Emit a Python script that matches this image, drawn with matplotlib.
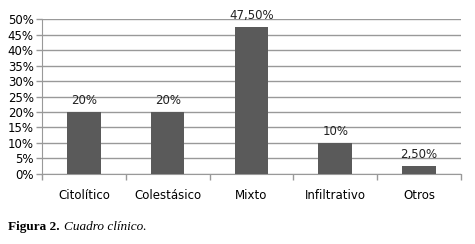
import matplotlib
matplotlib.use("Agg")
import matplotlib.pyplot as plt
from matplotlib.ticker import MultipleLocator, FuncFormatter

categories = ["Citolítico", "Colestásico", "Mixto", "Infiltrativo", "Otros"]
values = [20, 20, 47.5, 10, 2.5]
value_labels = ["20%", "20%", "47,50%", "10%", "2,50%"]

fig = plt.figure(figsize=(4.75, 2.44), dpi=100)
ax = fig.add_axes([0.0884, 0.287, 0.882, 0.635])

x = list(range(len(categories)))
ax.bar(x, values, width=0.4, color="#5a5a5a", zorder=3)
for xi, v, lab in zip(x, values, value_labels):
    ax.text(xi, v + 1.6, lab, ha="center", va="bottom", fontsize=8.5,
            family="DejaVu Sans", color="#222222")

ax.set_xlim(-0.5, len(categories) - 0.5)
ax.set_ylim(0, 50)
ax.yaxis.set_major_locator(MultipleLocator(5))
ax.yaxis.set_major_formatter(FuncFormatter(lambda v, p: f"{int(v)}%"))
ax.grid(axis="y", color="#999999", linewidth=1.0, zorder=0)
ax.set_xticks(x)
ax.set_xticklabels(categories)
ax.set_xticks([i + 0.5 for i in range(-1, len(categories))], minor=True)
ax.tick_params(axis="x", which="major", length=0, pad=11, labelsize=8.5)
ax.tick_params(axis="x", which="minor", length=4, color="#999999", width=1)
ax.tick_params(axis="y", length=4, color="#999999", width=1, labelsize=8.5, pad=2)
for s in ["top", "right"]:
    ax.spines[s].set_visible(False)
ax.spines["left"].set_color("#999999")
ax.spines["bottom"].set_color("#999999")

fig.text(0.017, 0.07, "Figura 2.", fontsize=9.5, family="Liberation Serif",
         weight="bold", va="center")
fig.text(0.134, 0.07, "Cuadro clínico.", fontsize=9.5, family="Liberation Serif",
         style="italic", va="center")

fig.savefig("out.png", dpi=100, facecolor="white")
